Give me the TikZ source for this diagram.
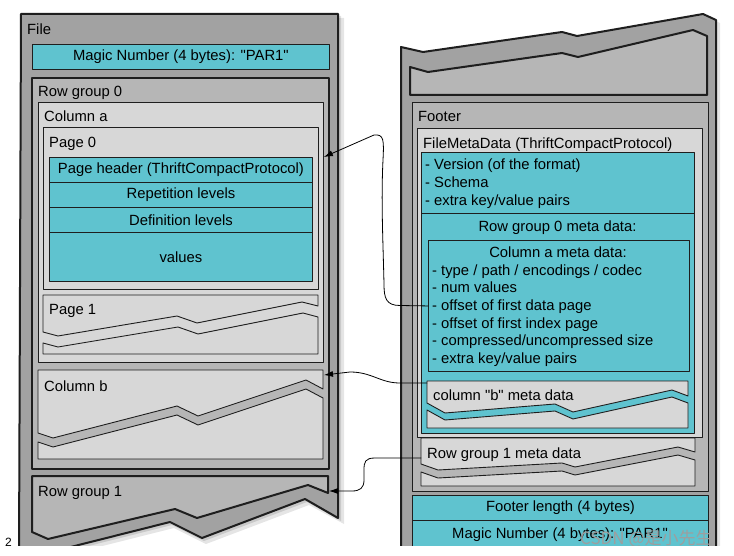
\documentclass[tikz,border=0pt]{standalone}
\usepackage{fontspec}
\setmainfont{Liberation Sans}[Ligatures=TeXOff]
\newfontfamily\cjkfont{Noto Sans CJK SC}
\usetikzlibrary{arrows.meta}
\definecolor{pqcyan}{HTML}{5FC3CF}
\definecolor{filegray}{HTML}{A2A2A2}
\definecolor{groupgray}{HTML}{B6B6B6}
\definecolor{colgray}{HTML}{D7D7D7}
\definecolor{edge}{HTML}{1E1E1E}
\tikzset{
  lbl/.style={anchor=base west, inner sep=0pt},
  cyanbox/.style={draw=edge, line width=0.9pt, fill=pqcyan, anchor=north west, inner sep=0pt, align=center},
  groupbox/.style={draw=edge, line width=2pt, fill=groupgray, anchor=north west, inner sep=0pt},
  colbox/.style={draw=edge, line width=0.9pt, fill=colgray, anchor=north west, inner sep=0pt},
  torn/.style={draw=edge, line width=0.9pt, fill=colgray},
  conn/.style={->, line width=0.8pt, black},
  shadow/.style={fill=black, opacity=#1}
}
\begin{document}
\begin{tikzpicture}[x=1pt, y=-1pt, line join=round, line cap=round,
  >={Latex[length=9pt,width=6pt]}, font={\fontsize{14.8pt}{17.5pt}\selectfont}]
\useasboundingbox (0,0) rectangle (734,556);
\fill[white] (0,0) rectangle (734,556);
\begin{scope}
  \clip (0,0) rectangle (734,545);
  % shadows
  \fill[shadow=0.10] (26,18) -- (344,18) -- (344,524) -- (309,505) -- (206,544) -- (174,528) -- (23,566) -- cycle;
  \fill[shadow=0.12] (23,16) -- (341,16) -- (341,521) -- (307,502) -- (204,541) -- (172,525) -- (21,563) -- cycle;
  \fill[shadow=0.10] (405,50) -- (427,55) -- (566,35) -- (581,39) -- (707,17) -- (720,23) -- (720,560) -- (405,560) -- cycle;
  % file, left
  \draw[draw=edge, line width=2pt, fill=filegray] (21,14) -- (338,14) -- (338,518) -- (305,499) -- (202,538)
    -- (170,522) -- (19,560) -- cycle;
  \node[lbl] (file) at (27,35) {File};
  \node[cyanbox, minimum width=297, minimum height=25] (magicA) at (32,44) {Magic Number (4 bytes): "PAR1"};
  \node[groupbox, minimum width=297, minimum height=391] (rg0) at (31,77) {};
  \node[lbl] (rg0lbl) at (38,97) {Row group 0};
  \node[colbox, minimum width=285, minimum height=260] (colA) at (38,102) {};
  \node[lbl] (colAlbl) at (44,122) {Column a};
  \node[colbox, minimum width=275, minimum height=162] (page0) at (43,127) {};
  \node[lbl] (page0lbl) at (49,148) {Page 0};
  \node[cyanbox, minimum width=263, minimum height=25] (hdr) at (49,157) {Page header (ThriftCompactProtocol)};
  \node[cyanbox, minimum width=263, minimum height=25] (rep) at (49,182) {Repetition levels};
  \node[cyanbox, minimum width=263, minimum height=25] (def) at (49,207) {Definition levels};
  \node[cyanbox, minimum width=263, minimum height=49] (vals) at (49,232) {values};
  % page 1
  \draw[torn] (43,295) -- (318,295) -- (318,306) -- (302,302) -- (197,323) -- (177,316) -- (58,336) -- (43,332) -- cycle;
  \draw[torn] (43,343) -- (58,347) -- (178,327) -- (198,334) -- (303,313) -- (318,317) -- (318,354) -- (43,354) -- cycle;
  \node[lbl] (page1lbl) at (49,315) {Page 1};
  % column b
  \draw[torn] (38,370) -- (323,370) -- (323,389) -- (306,380) -- (198,416) -- (177,406) -- (53,438) -- (38,433) -- cycle;
  \draw[torn] (38,442) -- (53,447) -- (177,415) -- (198,425) -- (306,389) -- (323,398) -- (323,459) -- (38,459) -- cycle;
  \node[lbl] (colBlbl) at (44,391) {Column b};
  \coordinate (colBtip) at (324,375);
  % row group 1
  \draw[draw=edge, line width=2pt, fill=groupgray] (32,476) -- (328,476) -- (328,493) -- (308,485) -- (197,518)
    -- (175,509) -- (48,539) -- (32,532) -- cycle;
  \node[lbl] (rg1lbl) at (38,496) {Row group 1};
  \coordinate (rg1tip) at (329,491);
  % file, right
  \draw[draw=edge, line width=2pt, fill=filegray] (401,47) -- (423,52) -- (562,32) -- (577,36) -- (703,14)
    -- (716,20) -- (716,560) -- (401,560) -- cycle;
  \draw[draw=edge, line width=2pt, fill=groupgray] (410,67) -- (428,72) -- (562,53) -- (578,57) -- (693,30)
    -- (707,36) -- (707,95) -- (410,95) -- cycle;
  \node[groupbox, line width=1.2pt, minimum width=296, minimum height=389] (footer) at (412,102) {};
  \node[lbl] (footerlbl) at (418,122) {Footer};
  \node[colbox, minimum width=285, minimum height=309] (fmd) at (417,128) {};
  \node[lbl] (fmdlbl) at (423,149) {FileMetaData (ThriftCompactProtocol)};
  \node[cyanbox, minimum width=273, minimum height=61] (fmdtop) at (421,152) {};
  \foreach \t [count=\i from 0] in {{- Version (of the format)}, {- Schema}, {- extra key/value pairs}}
    {\node[lbl] (ver\i) at (425,170+\i*18) {\t};}
  \node[cyanbox, minimum width=273, minimum height=220] (rg0meta) at (421,213) {};
  \node[anchor=base, inner sep=0pt] (rg0metalbl) at (557.5,232) {Row group 0 meta data:};
  \node[cyanbox, minimum width=261, minimum height=131] (colAmeta) at (428,240) {};
  \node[anchor=base, inner sep=0pt] (colAmetalbl) at (558,258) {Column a meta data:};
  \foreach \t [count=\i from 0] in {{- type / path / encodings / codec}, {- num values},
      {- offset of first data page}, {- offset of first index page},
      {- compressed/uncompressed size}, {- extra key/value pairs}}
    {\node[lbl] (cam\i) at (432,275.5+\i*17.5) {\t};}
  % column b meta data
  \draw[torn] (427,381) -- (688,381) -- (688,396) -- (672,390) -- (573,412) -- (555,404) -- (445,413) -- (427,403) -- cycle;
  \draw[torn] (427,410) -- (445,420) -- (555,411) -- (573,419) -- (672,397) -- (688,403) -- (688,428) -- (427,428) -- cycle;
  \node[lbl] (colBmetalbl) at (433,400) {column "b" meta data};
  \coordinate (colBsrc) at (427,383);
  % row group 1 meta data
  \draw[torn] (421,438) -- (695,438) -- (695,452) -- (678,447) -- (575,467) -- (562,463) -- (438,470) -- (421,464) -- cycle;
  \draw[torn] (421,472) -- (438,478) -- (562,471) -- (575,475) -- (678,455) -- (695,460) -- (695,486) -- (421,486) -- cycle;
  \node[lbl] (rg1metalbl) at (427,458) {Row group 1 meta data};
  \coordinate (rg1src) at (421,458);
  \node[cyanbox, minimum width=296, minimum height=25] (flen) at (412,495) {Footer length (4 bytes)};
  \node[cyanbox, minimum width=296, minimum height=32, anchor=north west] (magicB) at (412,520) {};
  \node[anchor=base, inner sep=0pt] (magicBlbl) at (560,538) {Magic Number (4 bytes): "PAR1"};
  % connectors
  \draw[conn] (colAmeta.west) -- (400,305.5) .. controls (386,305.5) and (384,298) .. (384,284)
    .. controls (383,240) and (381,200) .. (383,160) .. controls (384,140) and (384,134) .. (374,135)
    -- (colA.east |- hdr.north);
  \draw[conn] (colBsrc) -- (400,383) .. controls (380,383) and (372,372) .. (350,372) -- (colBtip);
  \draw[conn] (rg1src) -- (375,458) .. controls (365,458) and (364,462) .. (364,470) -- (364,480)
    .. controls (364,488) and (360,491) .. (352,491) -- (rg1tip);
  % watermark
  \node[anchor=base west, inner sep=0pt, text=white!62!black, font={\cjkfont\fontsize{17pt}{17pt}\selectfont}]
    (mark) at (580,544) {CSDN @是小先生};
\end{scope}
\node[anchor=base west, inner sep=0pt, font={\fontsize{12pt}{12pt}\selectfont}] (two) at (5,546) {2};
\end{tikzpicture}
\end{document}
